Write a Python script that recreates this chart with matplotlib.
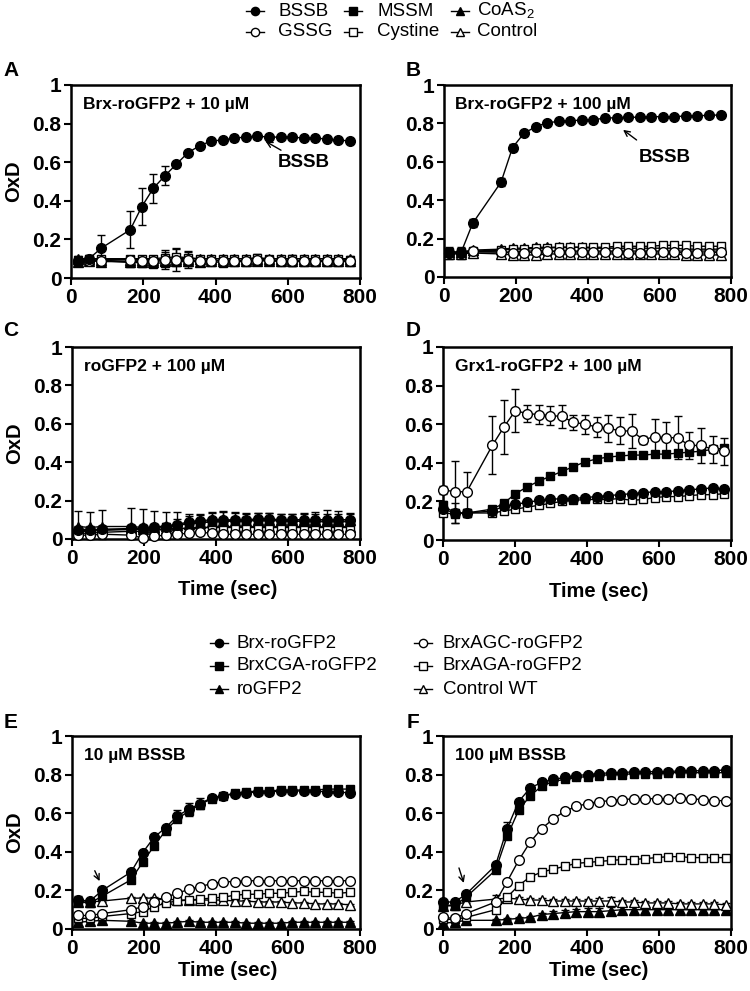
import numpy as np
import matplotlib
matplotlib.use("Agg")
import matplotlib.pyplot as plt
from matplotlib.lines import Line2D

plt.rcParams['font.family'] = ['Liberation Sans', 'DejaVu Sans']
plt.rcParams['mathtext.fontset'] = 'custom'
plt.rcParams['mathtext.rm'] = 'Liberation Sans'

# ---------------- data ----------------
T_A = [18, 50, 84, 164, 196, 228, 260, 292, 324, 356, 388, 420, 452, 484, 516, 548, 580, 612, 644, 676, 708, 740, 772]
T_B = [14, 47, 80, 159, 191, 223, 256, 288, 320, 352, 384, 416, 449, 481, 513, 545, 577, 610, 642, 674, 706, 739, 771]
T_C = [18, 50, 84, 164, 196, 228, 260, 292, 324, 356, 388, 420, 452, 484, 516, 548, 580, 612, 644, 676, 708, 740, 772]
T_D = [0, 33, 66, 137, 169, 201, 234, 266, 298, 330, 362, 395, 427, 459, 491, 524, 556, 588, 620, 652, 684, 717, 749, 781]
T_E = [18, 50, 84, 164, 196, 228, 260, 292, 324, 356, 388, 420, 452, 484, 516, 548, 580, 612, 644, 676, 708, 740, 772]
T_F = [0, 32, 64, 146, 178, 210, 242, 274, 306, 338, 370, 402, 434, 466, 498, 530, 562, 594, 626, 658, 690, 722, 754, 786]

# Panel A
A_BSSB = [0.09, 0.10, 0.155, 0.25, 0.37, 0.465, 0.53, 0.59, 0.65, 0.685, 0.71, 0.715, 0.725, 0.73, 0.735, 0.73, 0.73, 0.73, 0.725, 0.725, 0.72, 0.715, 0.71]
A_BSSB_err = [0.01, 0.02, 0.07, 0.095, 0.095, 0.075, 0.05, 0.01, 0.01, 0.01, 0.01, 0.01, 0.015, 0.01, 0.015, 0.01, 0.01, 0.01, 0.01, 0.01, 0.01, 0.01, 0.01]
A_GSSG = [0.09, 0.09, 0.09, 0.095, 0.09, 0.09, 0.095, 0.095, 0.095, 0.09, 0.09, 0.09, 0.09, 0.09, 0.095, 0.095, 0.09, 0.09, 0.09, 0.09, 0.09, 0.09, 0.09]
A_GSSG_err = [0.02, 0.02, 0.02, 0.02, 0.02, 0.02, 0.05, 0.06, 0.045, 0.02, 0.02, 0.02, 0.02, 0.02, 0.02, 0.02, 0.02, 0.03, 0.02, 0.02, 0.02, 0.02, 0.02]
A_MSSM = [0.085, 0.09, 0.09, 0.08, 0.08, 0.075, 0.08, 0.085, 0.085, 0.085, 0.085, 0.08, 0.085, 0.085, 0.09, 0.09, 0.085, 0.085, 0.085, 0.085, 0.085, 0.085, 0.085]
A_MSSM_err = [0.02, 0.02, 0.02, 0.02, 0.02, 0.02, 0.02, 0.02, 0.02, 0.02, 0.02, 0.02, 0.02, 0.02, 0.02, 0.02, 0.02, 0.02, 0.02, 0.02, 0.02, 0.02, 0.02]
A_Cys = [0.095, 0.1, 0.1, 0.1, 0.1, 0.1, 0.105, 0.11, 0.105, 0.1, 0.1, 0.1, 0.1, 0.1, 0.105, 0.1, 0.1, 0.1, 0.1, 0.1, 0.1, 0.1, 0.095]
A_Cys_err = [0.015, 0.015, 0.015, 0.015, 0.015, 0.015, 0.03, 0.04, 0.03, 0.015, 0.015, 0.015, 0.015, 0.015, 0.02, 0.015, 0.015, 0.015, 0.015, 0.015, 0.015, 0.015, 0.015]
A_CoAS = [0.085, 0.09, 0.085, 0.085, 0.085, 0.085, 0.09, 0.09, 0.09, 0.085, 0.09, 0.09, 0.09, 0.09, 0.09, 0.09, 0.09, 0.09, 0.09, 0.09, 0.09, 0.09, 0.09]
A_CoAS_err = [0.02, 0.02, 0.02, 0.02, 0.02, 0.02, 0.02, 0.02, 0.02, 0.02, 0.02, 0.02, 0.02, 0.02, 0.02, 0.02, 0.02, 0.02, 0.02, 0.02, 0.02, 0.02, 0.02]
A_Ctrl = [0.1, 0.1, 0.095, 0.095, 0.095, 0.095, 0.095, 0.1, 0.1, 0.1, 0.1, 0.1, 0.1, 0.1, 0.1, 0.1, 0.1, 0.1, 0.1, 0.1, 0.1, 0.1, 0.1]
A_Ctrl_err = [0.015, 0.015, 0.015, 0.015, 0.015, 0.015, 0.015, 0.015, 0.015, 0.015, 0.015, 0.015, 0.015, 0.015, 0.015, 0.015, 0.015, 0.015, 0.015, 0.015, 0.015, 0.015, 0.015]

# Panel B
B_BSSB = [0.125, 0.125, 0.28, 0.494, 0.674, 0.749, 0.783, 0.804, 0.81, 0.813, 0.818, 0.82, 0.827, 0.83, 0.832, 0.832, 0.835, 0.835, 0.835, 0.839, 0.84, 0.842, 0.844]
B_BSSB_err = [0.03, 0.03, 0.02, 0.02, 0.02, 0.01, 0.01, 0.01, 0.01, 0.01, 0.01, 0.01, 0.01, 0.01, 0.01, 0.01, 0.01, 0.01, 0.01, 0.01, 0.01, 0.01, 0.01]
B_GSSG = [0.125, 0.125, 0.135, 0.13, 0.125, 0.125, 0.13, 0.135, 0.13, 0.13, 0.13, 0.13, 0.13, 0.13, 0.125, 0.125, 0.13, 0.13, 0.13, 0.125, 0.125, 0.125, 0.13]
B_GSSG_err = [0.02, 0.02, 0.01, 0.015, 0.015, 0.02, 0.025, 0.02, 0.015, 0.015, 0.015, 0.015, 0.015, 0.015, 0.015, 0.015, 0.015, 0.015, 0.015, 0.015, 0.015, 0.015, 0.015]
B_MSSM = [0.125, 0.125, 0.13, 0.13, 0.13, 0.135, 0.135, 0.135, 0.135, 0.135, 0.135, 0.135, 0.135, 0.135, 0.135, 0.135, 0.135, 0.135, 0.135, 0.135, 0.135, 0.135, 0.135]
B_MSSM_err = [0.02, 0.02, 0.01, 0.01, 0.01, 0.01, 0.01, 0.01, 0.01, 0.01, 0.01, 0.01, 0.01, 0.01, 0.01, 0.01, 0.01, 0.01, 0.01, 0.01, 0.01, 0.01, 0.01]
B_Cys = [0.13, 0.13, 0.135, 0.14, 0.145, 0.145, 0.15, 0.15, 0.155, 0.155, 0.155, 0.155, 0.155, 0.16, 0.16, 0.16, 0.16, 0.165, 0.165, 0.165, 0.16, 0.16, 0.16]
B_Cys_err = [0.01, 0.01, 0.01, 0.01, 0.01, 0.01, 0.01, 0.01, 0.01, 0.01, 0.01, 0.01, 0.01, 0.01, 0.01, 0.01, 0.01, 0.01, 0.01, 0.01, 0.01, 0.01, 0.01]
B_CoAS = [0.13, 0.13, 0.14, 0.145, 0.15, 0.15, 0.155, 0.155, 0.155, 0.155, 0.155, 0.15, 0.15, 0.15, 0.15, 0.15, 0.15, 0.15, 0.15, 0.145, 0.145, 0.145, 0.145]
B_CoAS_err = [0.01, 0.01, 0.01, 0.01, 0.01, 0.01, 0.01, 0.01, 0.01, 0.01, 0.01, 0.01, 0.01, 0.01, 0.01, 0.01, 0.01, 0.01, 0.01, 0.01, 0.01, 0.01, 0.01]
B_Ctrl = [0.12, 0.12, 0.125, 0.12, 0.115, 0.115, 0.115, 0.12, 0.12, 0.12, 0.12, 0.12, 0.12, 0.12, 0.12, 0.12, 0.12, 0.12, 0.12, 0.115, 0.115, 0.115, 0.115]
B_Ctrl_err = [0.01, 0.01, 0.01, 0.01, 0.015, 0.015, 0.015, 0.01, 0.01, 0.01, 0.01, 0.01, 0.01, 0.01, 0.01, 0.01, 0.01, 0.01, 0.01, 0.015, 0.015, 0.015, 0.015]

# Panel C
C_BSSB = [0.045, 0.045, 0.05, 0.055, 0.055, 0.06, 0.065, 0.075, 0.09, 0.095, 0.1, 0.1, 0.1, 0.1, 0.105, 0.105, 0.1, 0.1, 0.1, 0.1, 0.1, 0.1, 0.1]
C_BSSB_err = [0.02, 0.02, 0.02, 0.02, 0.02, 0.02, 0.02, 0.03, 0.03, 0.03, 0.04, 0.04, 0.035, 0.03, 0.03, 0.03, 0.03, 0.03, 0.03, 0.03, 0.03, 0.03, 0.03]
C_GSSG = [0.02, 0.02, 0.025, 0.02, 0.005, 0.015, 0.02, 0.025, 0.03, 0.035, 0.03, 0.025, 0.025, 0.025, 0.025, 0.025, 0.025, 0.025, 0.025, 0.025, 0.025, 0.025, 0.025]
C_GSSG_err = [0.01, 0.01, 0.01, 0.01, 0.01, 0.01, 0.01, 0.01, 0.01, 0.01, 0.01, 0.01, 0.01, 0.01, 0.01, 0.01, 0.01, 0.01, 0.01, 0.01, 0.01, 0.01, 0.01]
C_MSSM = [0.04, 0.04, 0.045, 0.05, 0.05, 0.055, 0.06, 0.07, 0.08, 0.085, 0.09, 0.09, 0.095, 0.095, 0.095, 0.095, 0.095, 0.095, 0.09, 0.09, 0.09, 0.09, 0.09]
C_MSSM_err = [0.02, 0.02, 0.02, 0.02, 0.02, 0.02, 0.02, 0.02, 0.02, 0.02, 0.02, 0.02, 0.02, 0.02, 0.02, 0.02, 0.02, 0.02, 0.02, 0.02, 0.02, 0.02, 0.02]
C_Cys = [0.03, 0.03, 0.035, 0.04, 0.04, 0.045, 0.05, 0.055, 0.055, 0.06, 0.06, 0.065, 0.065, 0.065, 0.065, 0.065, 0.065, 0.065, 0.065, 0.065, 0.065, 0.065, 0.065]
C_Cys_err = [0.01, 0.01, 0.01, 0.01, 0.01, 0.01, 0.01, 0.01, 0.01, 0.01, 0.01, 0.01, 0.01, 0.01, 0.01, 0.01, 0.01, 0.01, 0.01, 0.01, 0.01, 0.01, 0.01]
C_CoAS = [0.065, 0.06, 0.065, 0.065, 0.06, 0.06, 0.07, 0.075, 0.08, 0.085, 0.09, 0.095, 0.095, 0.095, 0.1, 0.1, 0.1, 0.1, 0.1, 0.1, 0.1, 0.1, 0.1]
C_CoAS_err = [0.08, 0.08, 0.085, 0.095, 0.095, 0.085, 0.07, 0.065, 0.05, 0.045, 0.045, 0.05, 0.045, 0.04, 0.035, 0.035, 0.03, 0.03, 0.035, 0.04, 0.05, 0.045, 0.035]
C_Ctrl = [0.05, 0.05, 0.05, 0.05, 0.05, 0.05, 0.05, 0.055, 0.055, 0.06, 0.06, 0.06, 0.06, 0.06, 0.06, 0.06, 0.06, 0.06, 0.06, 0.06, 0.06, 0.06, 0.06]
C_Ctrl_err = [0.02, 0.02, 0.02, 0.02, 0.02, 0.02, 0.02, 0.02, 0.02, 0.02, 0.02, 0.02, 0.02, 0.02, 0.02, 0.02, 0.02, 0.02, 0.02, 0.02, 0.02, 0.02, 0.02]

# Panel D
D_GSSG = [0.26, 0.25, 0.25, 0.49, 0.585, 0.67, 0.655, 0.65, 0.645, 0.64, 0.61, 0.6, 0.585, 0.58, 0.565, 0.565, 0.52, 0.535, 0.53, 0.53, 0.49, 0.49, 0.47, 0.46]
D_GSSG_err = [0.02, 0.16, 0.1, 0.15, 0.14, 0.11, 0.045, 0.05, 0.05, 0.06, 0.04, 0.05, 0.05, 0.07, 0.07, 0.09, 0.02, 0.09, 0.08, 0.11, 0.07, 0.09, 0.07, 0.07]
D_MSSM = [0.18, 0.14, 0.14, 0.16, 0.19, 0.24, 0.275, 0.305, 0.33, 0.355, 0.38, 0.405, 0.42, 0.43, 0.435, 0.44, 0.44, 0.445, 0.445, 0.45, 0.455, 0.46, 0.47, 0.475]
D_MSSM_err = [0.02, 0.05, 0.02, 0.01, 0.01, 0.01, 0.01, 0.01, 0.01, 0.01, 0.01, 0.01, 0.01, 0.01, 0.01, 0.01, 0.01, 0.01, 0.01, 0.01, 0.01, 0.01, 0.01, 0.01]
D_BSSB = [0.16, 0.14, 0.14, 0.15, 0.175, 0.185, 0.195, 0.205, 0.21, 0.215, 0.215, 0.22, 0.225, 0.23, 0.235, 0.24, 0.245, 0.25, 0.25, 0.255, 0.26, 0.265, 0.27, 0.265]
D_BSSB_err = [0.02, 0.02, 0.01, 0.01, 0.01, 0.01, 0.01, 0.01, 0.01, 0.01, 0.01, 0.01, 0.01, 0.01, 0.01, 0.01, 0.01, 0.01, 0.01, 0.01, 0.01, 0.01, 0.01, 0.01]
D_Cys = [0.14, 0.135, 0.14, 0.14, 0.15, 0.16, 0.17, 0.18, 0.19, 0.2, 0.205, 0.21, 0.21, 0.21, 0.215, 0.205, 0.21, 0.22, 0.225, 0.225, 0.23, 0.235, 0.235, 0.24]
D_Cys_err = [0.01, 0.01, 0.01, 0.01, 0.01, 0.01, 0.01, 0.01, 0.01, 0.01, 0.01, 0.01, 0.01, 0.01, 0.01, 0.01, 0.01, 0.01, 0.01, 0.01, 0.01, 0.01, 0.01, 0.01]

# Panel E
E_Brx = [0.15, 0.145, 0.2, 0.295, 0.395, 0.475, 0.525, 0.585, 0.62, 0.65, 0.68, 0.69, 0.7, 0.705, 0.71, 0.71, 0.715, 0.715, 0.715, 0.715, 0.71, 0.71, 0.705]
E_Brx_err = [0.02, 0.01, 0.01, 0.01, 0.01, 0.01, 0.01, 0.03, 0.035, 0.03, 0.01, 0.01, 0.01, 0.01, 0.01, 0.01, 0.01, 0.01, 0.01, 0.01, 0.01, 0.01, 0.01]
E_CGA = [0.14, 0.135, 0.17, 0.255, 0.345, 0.43, 0.51, 0.57, 0.61, 0.645, 0.675, 0.69, 0.705, 0.71, 0.715, 0.715, 0.72, 0.72, 0.72, 0.72, 0.725, 0.725, 0.725]
E_CGA_err = [0.02, 0.01, 0.01, 0.01, 0.01, 0.01, 0.01, 0.01, 0.01, 0.01, 0.01, 0.01, 0.01, 0.01, 0.01, 0.01, 0.01, 0.01, 0.01, 0.01, 0.01, 0.01, 0.01]
E_roGFP2 = [0.035, 0.04, 0.045, 0.04, 0.03, 0.03, 0.03, 0.035, 0.04, 0.035, 0.035, 0.035, 0.035, 0.03, 0.03, 0.03, 0.03, 0.035, 0.035, 0.035, 0.035, 0.035, 0.035]
E_roGFP2_err = [0.005, 0.005, 0.005, 0.005, 0.005, 0.005, 0.005, 0.005, 0.005, 0.005, 0.005, 0.005, 0.005, 0.005, 0.005, 0.005, 0.005, 0.005, 0.005, 0.005, 0.005, 0.005, 0.005]
E_AGC = [0.07, 0.07, 0.08, 0.1, 0.115, 0.14, 0.165, 0.185, 0.205, 0.22, 0.235, 0.245, 0.245, 0.25, 0.25, 0.25, 0.25, 0.25, 0.25, 0.25, 0.25, 0.25, 0.25]
E_AGC_err = [0.005, 0.005, 0.005, 0.005, 0.005, 0.005, 0.005, 0.005, 0.005, 0.005, 0.005, 0.005, 0.005, 0.005, 0.005, 0.005, 0.005, 0.005, 0.005, 0.005, 0.005, 0.005, 0.005]
E_AGA = [0.055, 0.055, 0.065, 0.08, 0.09, 0.115, 0.135, 0.145, 0.15, 0.155, 0.16, 0.165, 0.175, 0.18, 0.18, 0.185, 0.185, 0.19, 0.195, 0.19, 0.19, 0.185, 0.19]
E_AGA_err = [0.005, 0.005, 0.005, 0.005, 0.005, 0.005, 0.005, 0.005, 0.005, 0.005, 0.005, 0.005, 0.005, 0.005, 0.005, 0.005, 0.005, 0.005, 0.005, 0.005, 0.005, 0.005, 0.005]
E_Ctrl = [0.14, 0.14, 0.145, 0.16, 0.16, 0.16, 0.155, 0.15, 0.15, 0.15, 0.15, 0.15, 0.145, 0.145, 0.14, 0.14, 0.14, 0.135, 0.135, 0.13, 0.13, 0.13, 0.125]
E_Ctrl_err = [0.005, 0.005, 0.005, 0.005, 0.005, 0.005, 0.005, 0.005, 0.005, 0.005, 0.005, 0.005, 0.005, 0.005, 0.005, 0.005, 0.005, 0.005, 0.005, 0.005, 0.005, 0.005, 0.005]

# Panel F
F_Brx = [0.14, 0.14, 0.18, 0.33, 0.52, 0.66, 0.73, 0.76, 0.775, 0.785, 0.795, 0.8, 0.805, 0.81, 0.81, 0.815, 0.815, 0.815, 0.815, 0.82, 0.82, 0.82, 0.82, 0.825]
F_Brx_err = [0.01, 0.01, 0.01, 0.01, 0.035, 0.01, 0.01, 0.01, 0.01, 0.01, 0.01, 0.01, 0.01, 0.01, 0.01, 0.01, 0.01, 0.01, 0.01, 0.01, 0.01, 0.01, 0.01, 0.01]
F_CGA = [0.12, 0.12, 0.165, 0.305, 0.48, 0.615, 0.69, 0.74, 0.765, 0.775, 0.785, 0.79, 0.795, 0.8, 0.8, 0.805, 0.805, 0.805, 0.81, 0.81, 0.81, 0.81, 0.81, 0.81]
F_CGA_err = [0.01, 0.01, 0.01, 0.01, 0.01, 0.01, 0.01, 0.01, 0.01, 0.01, 0.01, 0.01, 0.01, 0.01, 0.01, 0.01, 0.01, 0.01, 0.01, 0.01, 0.01, 0.01, 0.01, 0.01]
F_roGFP2 = [0.03, 0.035, 0.045, 0.045, 0.05, 0.055, 0.06, 0.075, 0.08, 0.085, 0.09, 0.09, 0.09, 0.095, 0.1, 0.1, 0.1, 0.1, 0.1, 0.1, 0.1, 0.1, 0.1, 0.1]
F_roGFP2_err = [0.005, 0.005, 0.005, 0.005, 0.005, 0.005, 0.005, 0.01, 0.015, 0.015, 0.015, 0.02, 0.02, 0.02, 0.02, 0.02, 0.02, 0.02, 0.02, 0.02, 0.02, 0.015, 0.015, 0.015]
F_AGC = [0.06, 0.055, 0.08, 0.14, 0.245, 0.355, 0.45, 0.52, 0.57, 0.61, 0.635, 0.65, 0.66, 0.665, 0.67, 0.675, 0.675, 0.675, 0.675, 0.68, 0.675, 0.67, 0.665, 0.665]
F_AGC_err = [0.005, 0.005, 0.005, 0.005, 0.005, 0.005, 0.005, 0.005, 0.01, 0.005, 0.005, 0.005, 0.005, 0.005, 0.005, 0.005, 0.005, 0.005, 0.005, 0.005, 0.005, 0.005, 0.005, 0.005]
F_AGA = [0.05, 0.05, 0.06, 0.1, 0.165, 0.225, 0.27, 0.295, 0.31, 0.325, 0.34, 0.345, 0.35, 0.355, 0.36, 0.36, 0.365, 0.37, 0.375, 0.375, 0.37, 0.37, 0.37, 0.37]
F_AGA_err = [0.005, 0.005, 0.005, 0.005, 0.005, 0.005, 0.005, 0.005, 0.005, 0.005, 0.005, 0.005, 0.005, 0.005, 0.005, 0.005, 0.005, 0.005, 0.005, 0.005, 0.005, 0.005, 0.005, 0.005]
F_Ctrl = [0.12, 0.125, 0.14, 0.155, 0.16, 0.155, 0.15, 0.15, 0.145, 0.145, 0.145, 0.145, 0.145, 0.145, 0.14, 0.14, 0.135, 0.135, 0.135, 0.13, 0.13, 0.13, 0.13, 0.125]
F_Ctrl_err = [0.005, 0.005, 0.005, 0.02, 0.01, 0.01, 0.01, 0.01, 0.01, 0.01, 0.01, 0.01, 0.015, 0.02, 0.01, 0.01, 0.01, 0.01, 0.01, 0.01, 0.01, 0.01, 0.01, 0.01]

X_TICKS = [0, 200, 400, 600, 800]
Y_TICKS = [0, 0.2, 0.4, 0.6, 0.8, 1.0]
Y_TICK_LABELS = ["0", "0.2", "0.4", "0.6", "0.8", "1"]

LEG1 = [["BSSB", "MSSM", "CoAS$_\\mathregular{2}$"], ["GSSG", "Cystine", "Control"]]
LEG2 = [["Brx-roGFP2", "BrxCGA-roGFP2", "roGFP2"], ["BrxAGC-roGFP2", "BrxAGA-roGFP2", "Control WT"]]

# ---------------- styles ----------------
STY = {
    "BSSB": ("o", "black"), "GSSG": ("o", "white"),
    "MSSM": ("s", "black"), "Cystine": ("s", "white"),
    "CoAS$_\\mathregular{2}$": ("^", "black"), "Control": ("^", "white"),
    "Brx-roGFP2": ("o", "black"), "BrxAGC-roGFP2": ("o", "white"),
    "BrxCGA-roGFP2": ("s", "black"), "BrxAGA-roGFP2": ("s", "white"),
    "roGFP2": ("^", "black"), "Control WT": ("^", "white"),
}
MS = {"o": 7.0, "s": 6.3, "^": 7.0}

W, H = 750, 991
fig = plt.figure(figsize=(7.5, 9.91), dpi=100)


def rect(l, r, t, b):
    return [l / W, 1 - b / H, (r - l) / W, (b - t) / H]


def make_ax(l, r, t, b):
    ax = fig.add_axes(rect(l, r, t, b))
    ax.set_xlim(0, 800)
    ax.set_ylim(0, 1)
    for s in ax.spines.values():
        s.set_linewidth(1.8)
    ax.set_xticks(X_TICKS, labels=[str(v) for v in X_TICKS], fontsize=15, fontweight="bold")
    ax.set_yticks(Y_TICKS, labels=Y_TICK_LABELS, fontsize=15, fontweight="bold")
    ax.tick_params(direction="out", length=5, width=1.5, pad=2)
    return ax


def draw(ax, t, series):
    for name, y, err in series:
        m, fc = STY[name]
        y = np.asarray(y)
        err = np.asarray(err)
        lower = np.minimum(err, y)
        ax.errorbar(t, y, yerr=[lower, err], color="black", marker=m, mfc=fc, mec="black",
                    ms=MS[m], mew=1.0, lw=1.0, elinewidth=1.0, capsize=3, capthick=1.0,
                    clip_on=False, zorder=3)


def title(ax, s):
    ax.text(0.04, 0.90, s, transform=ax.transAxes, fontsize=12.5, fontweight="bold",
            ha="left", va="center")


CO = "CoAS$_\\mathregular{2}$"

axA = make_ax(71, 360, 85, 278)
draw(axA, T_A, [(CO, A_CoAS, A_CoAS_err), ("MSSM", A_MSSM, A_MSSM_err), ("Control", A_Ctrl, A_Ctrl_err),
                ("Cystine", A_Cys, A_Cys_err), ("GSSG", A_GSSG, A_GSSG_err), ("BSSB", A_BSSB, A_BSSB_err)])
title(axA, "Brx-roGFP2 + 10 µM")
axA.annotate("", xy=(532, 0.715), xytext=(588, 0.655),
             arrowprops=dict(arrowstyle="->", lw=1.0, color="black"))
axA.text(643, 0.6, "BSSB", fontsize=13.5, fontweight="bold", ha="center", va="center")

axB = make_ax(444, 731, 85, 277)
draw(axB, T_B, [(CO, B_CoAS, B_CoAS_err), ("MSSM", B_MSSM, B_MSSM_err), ("Control", B_Ctrl, B_Ctrl_err),
                ("Cystine", B_Cys, B_Cys_err), ("GSSG", B_GSSG, B_GSSG_err), ("BSSB", B_BSSB, B_BSSB_err)])
title(axB, "Brx-roGFP2 + 100 µM")
axB.annotate("", xy=(493, 0.775), xytext=(543, 0.705),
             arrowprops=dict(arrowstyle="->", lw=1.0, color="black"))
axB.text(616, 0.625, "BSSB", fontsize=13.5, fontweight="bold", ha="center", va="center")

axC = make_ax(72, 360, 347, 539)
draw(axC, T_C, [(CO, C_CoAS, C_CoAS_err), ("Control", C_Ctrl, C_Ctrl_err), ("Cystine", C_Cys, C_Cys_err),
                ("MSSM", C_MSSM, C_MSSM_err), ("GSSG", C_GSSG, C_GSSG_err), ("BSSB", C_BSSB, C_BSSB_err)])
title(axC, "roGFP2 + 100 µM")

axD = make_ax(443, 731, 347, 540)
draw(axD, T_D, [("Cystine", D_Cys, D_Cys_err), ("BSSB", D_BSSB, D_BSSB_err),
                ("MSSM", D_MSSM, D_MSSM_err), ("GSSG", D_GSSG, D_GSSG_err)])
title(axD, "Grx1-roGFP2 + 100 µM")

axE = make_ax(72, 360, 736, 929)
draw(axE, T_E, [("roGFP2", E_roGFP2, E_roGFP2_err), ("Control WT", E_Ctrl, E_Ctrl_err),
                ("BrxAGA-roGFP2", E_AGA, E_AGA_err), ("BrxAGC-roGFP2", E_AGC, E_AGC_err),
                ("BrxCGA-roGFP2", E_CGA, E_CGA_err), ("Brx-roGFP2", E_Brx, E_Brx_err)])
title(axE, "10 µM BSSB")
axE.annotate("", xy=(80, 0.235), xytext=(60, 0.315),
             arrowprops=dict(arrowstyle="->", lw=1.0, color="black"))

axF = make_ax(443, 731, 736, 929)
draw(axF, T_F, [("roGFP2", F_roGFP2, F_roGFP2_err), ("Control WT", F_Ctrl, F_Ctrl_err),
                ("BrxAGA-roGFP2", F_AGA, F_AGA_err), ("BrxAGC-roGFP2", F_AGC, F_AGC_err),
                ("BrxCGA-roGFP2", F_CGA, F_CGA_err), ("Brx-roGFP2", F_Brx, F_Brx_err)])
title(axF, "100 µM BSSB")
axF.annotate("", xy=(60, 0.225), xytext=(42, 0.33),
             arrowprops=dict(arrowstyle="->", lw=1.0, color="black"))

for ax in (axA, axC, axE):
    ax.set_ylabel("OxD", fontsize=14.5, fontweight="bold", va="center", ha="center")
    ax.yaxis.set_label_coords(-0.2, 0.5)
for ax, yy in ((axC, -0.265), (axD, -0.265), (axE, -0.215), (axF, -0.215)):
    ax.set_xlabel("Time (sec)", fontsize=14.5, fontweight="bold", va="center")
    ax.xaxis.set_label_coords(0.54, yy)

# panel letters
for s, x, y in (("A", 11, 71), ("B", 413, 71), ("C", 11, 331), ("D", 413, 331), ("E", 11, 722), ("F", 413, 722)):
    fig.text(x / W, 1 - y / H, s, fontsize=15, fontweight="bold", ha="center", va="center")


# legends drawn in figure pixels
def leg_entry(name, mx, my, tx, half=9):
    m, fc = STY[name]
    y = 1 - my / H
    fig.add_artist(Line2D([(mx - half) / W, (mx + half) / W], [y, y], color="black", lw=1.0,
                          transform=fig.transFigure))
    fig.add_artist(Line2D([mx / W], [y], marker=m, mfc=fc, mec="black", ms=MS[m] * 0.85, mew=1.0,
                          transform=fig.transFigure))
    fig.text(tx / W, y, name, fontsize=13.5, ha="left", va="center")


for r, row in enumerate(LEG1):
    for c, name in enumerate(row):
        leg_entry(name, [255, 353, 460][c], [11, 32][r], [278, 377, 477][c])

for c, col in enumerate(LEG2):
    for r, name in enumerate(col):
        leg_entry(name, [219, 423][c], [643, 666, 689][r], [237, 443][c])

fig.savefig("out.png", dpi=100)
